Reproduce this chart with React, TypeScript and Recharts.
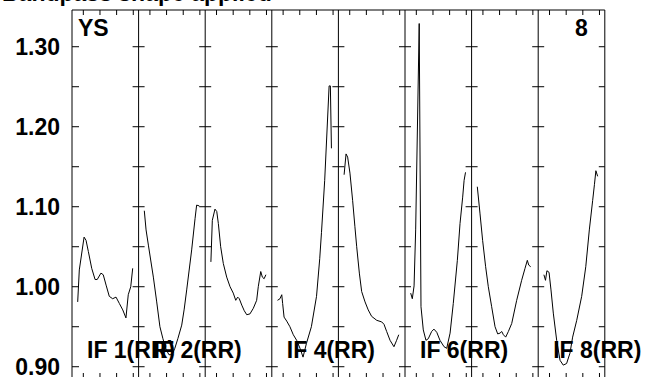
import React from "react";
import { LineChart, Line, XAxis, YAxis, ReferenceLine } from "recharts";

// Spectra per IF: [channel, normalised gain], channels 0..31
const if1 = [
	[0, 0.981], [0.9, 1.021], [3.6, 1.062], [4.7, 1.058], [6.0, 1.044], [7.9, 1.023],
	[9.8, 1.009], [11.0, 1.009], [13.1, 1.017], [14.4, 1.015], [16.0, 1.002], [17.8, 0.988],
	[19.7, 0.985], [21.6, 0.987], [23.5, 0.979], [25.4, 0.971], [27.2, 0.961], [28.5, 0.99],
	[29.9, 1.0], [31, 1.023],
];
const if2 = [
	[0, 1.095], [1.0, 1.071], [2.3, 1.052], [5.1, 1.012], [7.0, 0.981], [8.8, 0.95],
	[10.5, 0.935], [12.2, 0.922], [13.9, 0.915], [15.6, 0.915], [17.2, 0.923], [18.9, 0.935],
	[21.1, 0.952], [22.5, 0.972], [23.9, 0.996], [26.7, 1.046], [28.6, 1.085], [29.5, 1.102],
	[31, 1.101],
];
const if3 = [
	[0, 1.031], [0.8, 1.083], [2.3, 1.097], [3.3, 1.094], [4.2, 1.079], [5.5, 1.05],
	[7.0, 1.029], [8.9, 1.012], [10.8, 1.0], [12.6, 0.992], [14.0, 0.983], [15.1, 0.987],
	[16.0, 0.985], [17.4, 0.977], [18.8, 0.97], [20.2, 0.965], [22.0, 0.966], [23.9, 0.973],
	[25.8, 0.983], [26.7, 1.0], [28.1, 1.019], [29.0, 1.012], [30.0, 1.01], [31, 1.015],
];
const if4 = [
	[0, 0.983], [1.4, 0.985], [2.4, 0.99], [2.9, 0.979], [3.7, 0.962], [5.2, 0.957],
	[7.0, 0.95], [8.9, 0.94], [10.8, 0.933], [12.7, 0.923], [14.4, 0.912], [16.3, 0.929],
	[19.1, 0.95], [22.0, 0.988], [23.8, 1.035], [24.8, 1.068], [26.6, 1.133], [29.1, 1.251],
	[29.8, 1.251], [30.4, 1.173],
];
const if5 = [
	[0, 1.14], [1.1, 1.166], [2.0, 1.162], [3.3, 1.142], [4.8, 1.108], [6.1, 1.075],
	[7.1, 1.05], [8.6, 1.017], [9.9, 0.994], [11.8, 0.981], [13.6, 0.971], [15.5, 0.963],
	[18.4, 0.958], [21.2, 0.956], [22.5, 0.953], [24.0, 0.944], [25.9, 0.933], [28.1, 0.925],
	[29.6, 0.933], [30.8, 0.94],
];
const if6 = [
	[0, 0.992], [0.9, 0.985], [1.9, 1.001], [2.8, 1.071], [4.8, 1.329], [5.8, 0.975],
	[7.1, 0.946], [8.6, 0.933], [9.9, 0.935], [11.8, 0.944], [13.1, 0.947], [14.7, 0.943],
	[16.5, 0.933], [18.8, 0.925], [20.3, 0.923], [22.2, 0.942], [24.0, 0.979], [26.3, 1.033],
	[27.8, 1.079], [29.3, 1.112], [30.1, 1.133], [30.9, 1.143],
];
const if7 = [
	[0, 1.125], [1.5, 1.092], [3.0, 1.058], [4.7, 1.025], [6.2, 1.0], [8.1, 0.975],
	[10.0, 0.95], [11.5, 0.941], [12.8, 0.942], [13.8, 0.944], [14.7, 0.94], [16.0, 0.937],
	[17.5, 0.944], [19.4, 0.954], [22.2, 0.983], [25.0, 1.008], [26.9, 1.023], [28.2, 1.033],
	[29.0, 1.027], [30.1, 1.025],
];
const if8 = [
	[0, 1.015], [0.9, 1.008], [1.7, 1.02], [2.9, 1.018], [4.0, 0.996], [5.3, 0.967],
	[7.2, 0.933], [9.1, 0.908], [10.9, 0.902], [12.8, 0.904], [14.7, 0.917], [16.2, 0.937],
	[18.5, 0.958], [21.3, 0.988], [23.6, 1.025], [25.6, 1.071], [27.5, 1.108], [28.5, 1.128],
	[29.3, 1.145], [30.3, 1.138],
];

const ifSpectra = [if1, if2, if3, if4, if5, if6, if7, if8];
const ifLabels = ["IF 1(RR)", "IF 2(RR)", "", "IF 4(RR)", "", "IF 6(RR)", "", "IF 8(RR)"];
const yLabelTicks = [0.9, 1.0, 1.1, 1.2, 1.3];
const yMinorTicks = [0.9, 0.95, 1.0, 1.05, 1.1, 1.15, 1.2, 1.25, 1.3];
const title = "Bandpass shape applied";
const antenna = "YS";
const antennaNo = "8";

// layout
const W = 645;
const H = 400;
const PLOT = { left: 72, top: 10, right: 604.8, bottom: 378 };
const X_MAX = 32; // 4 units per IF panel
const PANEL = 4;
const Y_MIN = 0.8859;
const Y_MAX = 1.3459;
const PX_X = (PLOT.right - PLOT.left) / X_MAX;
const PX_Y = (PLOT.bottom - PLOT.top) / (Y_MAX - Y_MIN);
const CH0 = 5.7 / PX_X;
const CH_STEP = 1.774 / PX_X;

const font = "'Liberation Sans', Arial, Helvetica, sans-serif";

const series = ifSpectra.map((pts, i) =>
	pts.map(([ch, v]) => ({ x: i * PANEL + CH0 + ch * CH_STEP, v }))
);

const seg = (x1: number, y1: number, x2: number, y2: number, key: string) => (
	<ReferenceLine
		key={key}
		segment={[
			{ x: x1, y: y1 },
			{ x: x2, y: y2 },
		]}
		stroke="#000"
		strokeWidth={1}
		ifOverflow="visible"
	/>
);

export default function App() {
	const ticks: React.ReactNode[] = [];
	yMinorTicks.forEach((y, j) => {
		ticks.push(seg(0, y, 7 / PX_X, y, `l${j}`));
		ticks.push(seg(X_MAX - 6 / PX_X, y, X_MAX, y, `r${j}`));
		for (let i = 1; i < 8; i++) {
			const x = i * PANEL;
			ticks.push(seg(x - 6 / PX_X, y, x + 6 / PX_X, y, `d${i}-${j}`));
		}
	});
	for (let k = 0; k < 32; k++) {
		const x = k + 0.68;
		ticks.push(seg(x, Y_MAX, x, Y_MAX - 5 / PX_Y, `t${k}`));
		ticks.push(seg(x, Y_MIN, x, Y_MIN + 5 / PX_Y, `b${k}`));
	}

	const panelPx = PANEL * PX_X;

	return (
		<div
			style={{
				position: "absolute",
				left: 0,
				top: 0,
				width: W,
				height: 377,
				overflow: "hidden",
				background: "#fff",
			}}
		>
			<LineChart
				width={W}
				height={H}
				margin={{ top: PLOT.top, right: W - PLOT.right, bottom: H - PLOT.bottom, left: 0 }}
			>
				<XAxis type="number" dataKey="x" domain={[0, X_MAX]} hide allowDataOverflow />
				<YAxis
					type="number"
					domain={[Y_MIN, Y_MAX]}
					ticks={yLabelTicks}
					interval={0}
					width={PLOT.left}
					allowDataOverflow
					axisLine={false}
					tickLine={false}
					tickMargin={6}
					tickFormatter={(v) => Number(v).toFixed(2)}
					tick={{ fontSize: 23, fontWeight: 700, fill: "#000", fontFamily: font }}
				/>
				{/* frame + IF dividers */}
				<ReferenceLine x={0} stroke="#000" ifOverflow="visible" />
				<ReferenceLine x={X_MAX} stroke="#000" ifOverflow="visible" />
				<ReferenceLine y={Y_MAX} stroke="#000" ifOverflow="visible" />
				<ReferenceLine y={Y_MIN} stroke="#000" ifOverflow="visible" />
				{[1, 2, 3, 4, 5, 6, 7].map((i) => (
					<ReferenceLine key={`div${i}`} x={i * PANEL} stroke="#000" ifOverflow="visible" />
				))}
				{ticks}
				{series.map((d, i) => (
					<Line
						key={`if${i + 1}`}
						data={d}
						dataKey="v"
						type="linear"
						stroke="#000"
						strokeWidth={1}
						dot={false}
						isAnimationActive={false}
					/>
				))}
			</LineChart>
			<svg
				width={W}
				height={377}
				style={{ position: "absolute", left: 0, top: 0, pointerEvents: "none" }}
			>
				<g fontFamily={font} fontWeight={700} fontSize={23} fill="#000">
					<text x={2} y={1}>
						{title}
					</text>
					<text x={PLOT.left + 6} y={36}>
						{antenna}
					</text>
					<text x={PLOT.right - 17} y={36} textAnchor="end">
						{antennaNo}
					</text>
					{ifLabels.map((lab, i) =>
						lab ? (
							<text key={lab} x={PLOT.left + i * panelPx + 15} y={358}>
								{lab}
							</text>
						) : null
					)}
				</g>
			</svg>
		</div>
	);
}
